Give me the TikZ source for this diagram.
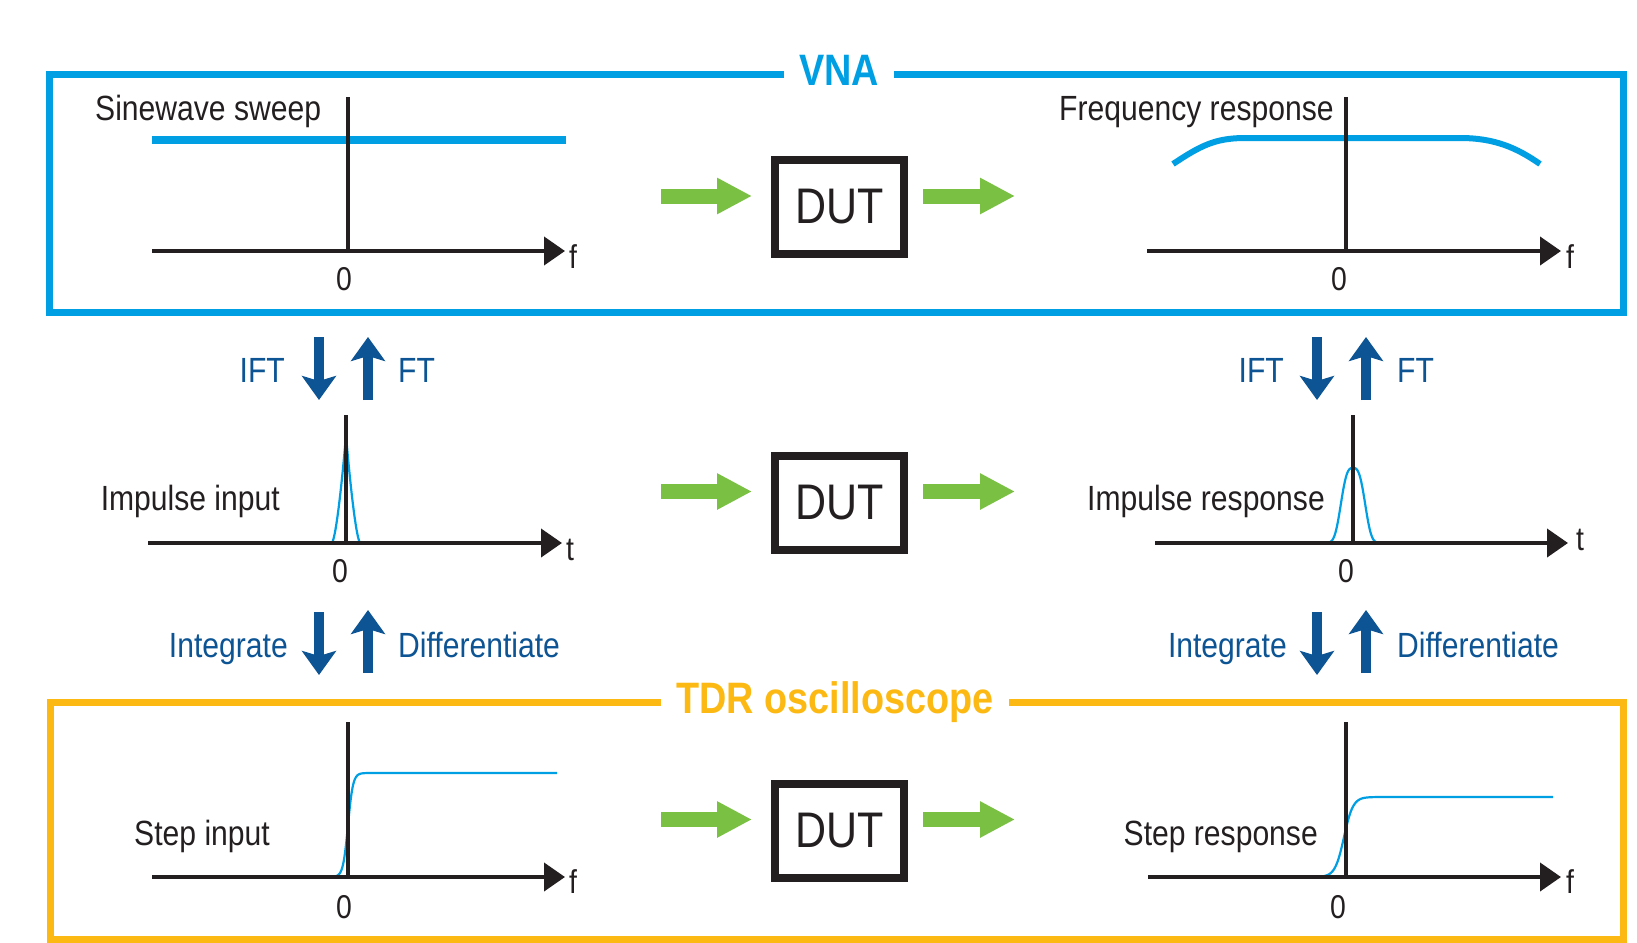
\documentclass[tikz,border=0pt]{standalone}
\usepackage{fontspec}
\setmainfont{Liberation Sans}[FakeStretch=0.86]
\usetikzlibrary{arrows.meta,calc}
\definecolor{vnablue}{RGB}{0,159,227}
\definecolor{tdrorange}{RGB}{253,185,19}
\definecolor{feedgreen}{RGB}{122,193,67}
\definecolor{ftblue}{RGB}{12,84,148}
\definecolor{ink}{RGB}{35,31,32}
\begin{document}
\begin{tikzpicture}[x=1pt,y=-1pt,
    frame/.style={line width=7pt,line join=miter},
    haxis/.style={draw=ink,line width=4pt,-{Triangle[length=21pt,width=28pt]}},
    vaxis/.style={draw=ink,line width=4pt},
    sig/.style={vnablue,line width=2.2pt},
    lbl/.style={text=ink,font=\fontsize{35}{40}\selectfont,inner sep=0pt},
    tick/.style={text=ink,font=\fontsize{33}{38}\selectfont,inner sep=0pt},
    conv/.style={text=ftblue,font=\fontsize{35}{40}\selectfont,inner sep=0pt},
    title/.style={font=\fontsize{44}{50}\selectfont\bfseries,inner xsep=15pt,inner ysep=0pt,anchor=base},
    dut/.style={draw=ink,line width=8pt,minimum width=129pt,minimum height=94pt,
        font=\fontsize{50}{56}\selectfont,text=ink},
    feed/.style={draw=feedgreen,line width=15pt,-{Triangle[length=35pt,width=34pt]}},
    updown/.style={draw=ftblue,line width=10pt,-{Stealth[length=24pt,width=34pt,inset=5pt]}}]
    \useasboundingbox (0,0) rectangle (1637,942);

    % boxes and titles
    \node[title,text=vnablue] (vna) at (839,85) {VNA};
    \node[title,text=tdrorange] (tdr) at (835,713) {TDR oscilloscope};
    \draw[frame,vnablue] (vna.west |- 0,74.5) -- (49,74.5) -- (49,312) -- (1623,312)
        -- (1623,74.5) -- (vna.east |- 0,74.5);
    \draw[frame,tdrorange] (tdr.west |- 0,702) -- (50,702) -- (50,939) -- (1623,939)
        -- (1623,702) -- (tdr.east |- 0,702);

    % devices
    \node[dut] (dut1) at (839.5,207) {DUT};
    \node[dut] (dut2) at (839.5,502.5) {DUT};
    \node[dut] (dut3) at (839.5,830.5) {DUT};
    \foreach \d in {dut1,dut2,dut3} {
        \draw[feed] ($(\d.west)+(-110,-11)$) -- ($(\d.west)+(-19,-11)$);
        \draw[feed] ($(\d.east)+(15,-11)$) -- ($(\d.east)+(107,-11)$);
    }

    % signals
    \draw[vnablue,line width=8pt] (152,140) -- (566,140);
    \draw[vnablue,line width=6pt] (1173,164) .. controls (1200,146) and (1215,138) .. (1245,138)
        -- (1460,138) .. controls (1495,138) and (1517,148) .. (1540,164);
    \draw[sig] (332,543) .. controls (337,535) and (344,460) .. (346,435)
        .. controls (348,460) and (355,535) .. (360,543);
    \draw[sig] plot[domain=-26:26,samples=80] ({1353+\x},{543-75*exp(-(\x*\x/196)^1.5)});
    \draw[sig] plot[domain=333:368,samples=60] (\x,{877-52*(1+tanh((\x-348)/5))}) -- (557,773);
    \draw[sig] plot[domain=1318:1375,samples=60] (\x,{877-40*(1+tanh((\x-1344)/9))}) -- (1553,797);

    % axes
    \draw[vaxis] (348,97) -- (348,251);
    \draw[haxis] (152,251) -- (565,251);
    \draw[vaxis] (1346,97) -- (1346,251);
    \draw[haxis] (1147,251) -- (1561,251);
    \draw[vaxis] (346,415) -- (346,543);
    \draw[haxis] (148,543) -- (562,543);
    \draw[vaxis] (1352.5,415) -- (1352.5,543);
    \draw[haxis] (1155,543) -- (1568,543);
    \draw[vaxis] (348,722) -- (348,877);
    \draw[haxis] (152,877) -- (565,877);
    \draw[vaxis] (1346,722) -- (1346,877);
    \draw[haxis] (1148,877) -- (1561,877);

    \node[tick,anchor=base west] (f1) at (569,268) {f};
    \node[tick,anchor=base] (z1) at (344,290) {0};
    \node[tick,anchor=base west] (f2) at (1566,268) {f};
    \node[tick,anchor=base] (z2) at (1339,290) {0};
    \node[tick,anchor=base west] (t1) at (566,560) {t};
    \node[tick,anchor=base] (z3) at (340,582) {0};
    \node[tick,anchor=base west] (t2) at (1576,550) {t};
    \node[tick,anchor=base] (z4) at (1346,582) {0};
    \node[tick,anchor=base west] (f3) at (569,893) {f};
    \node[tick,anchor=base] (z5) at (344,918) {0};
    \node[tick,anchor=base west] (f4) at (1566,893) {f};
    \node[tick,anchor=base] (z6) at (1338,918) {0};

    % plot labels
    \node[lbl,anchor=base west] (sweep) at (95,120) {Sinewave sweep};
    \node[lbl,anchor=base west] (freq) at (1059,120) {Frequency response};
    \node[lbl,anchor=base east] (impin) at (280,510) {Impulse input};
    \node[lbl,anchor=base east] (impout) at (1325,510) {Impulse response};
    \node[lbl,anchor=base east] (stepin) at (270,845) {Step input};
    \node[lbl,anchor=base east] (stepout) at (1318,845) {Step response};

    % transforms
    \node[conv,anchor=base east] (ift1) at (285,382) {IFT};
    \node[conv,anchor=base west] (ft1) at (398,382) {FT};
    \node[conv,anchor=base east] (ift2) at (1284,382) {IFT};
    \node[conv,anchor=base west] (ft2) at (1397,382) {FT};
    \node[conv,anchor=base east] (int1) at (288,657) {Integrate};
    \node[conv,anchor=base west] (dif1) at (398,657) {Differentiate};
    \node[conv,anchor=base east] (int2) at (1287,657) {Integrate};
    \node[conv,anchor=base west] (dif2) at (1397,657) {Differentiate};
    \coordinate (dn1) at (319,337);
    \coordinate (up1) at (368,400);
    \coordinate (dn2) at (1317,337);
    \coordinate (up2) at (1366,400);
    \coordinate (dn3) at (319,612);
    \coordinate (up3) at (368,673);
    \coordinate (dn4) at (1317,612);
    \coordinate (up4) at (1366,673);
    \foreach \n in {1,2,3,4} {
        \draw[updown] (dn\n) -- ++(0,63);
        \draw[updown] (up\n) -- ++(0,-63);
    }
\end{tikzpicture}
\end{document}
